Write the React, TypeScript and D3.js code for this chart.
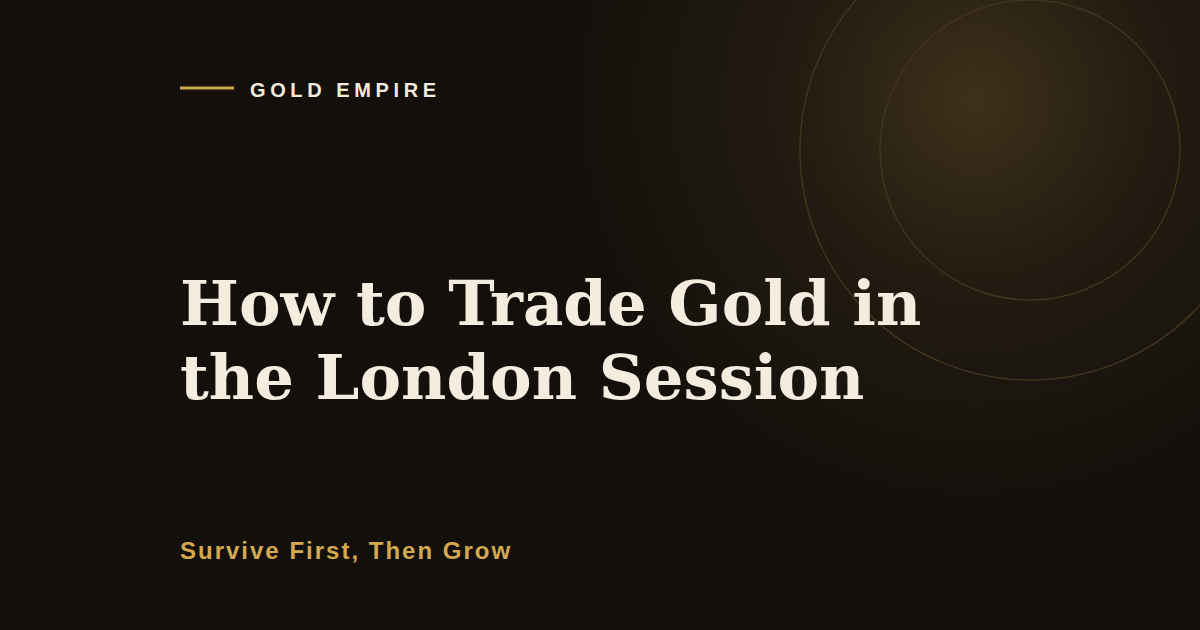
import * as d3 from "d3";

// card content
const brand = "GOLD EMPIRE";
const titleLines = ["How to Trade Gold in", "the London Session"];
const tagline = "Survive First, Then Grow";
// decorative rings (radius in px)
const ringRadii = [150, 230];

const W = 1200;
const H = 630;

const App = () => {
  const lineY = d3.scaleLinear().domain([0, 1]).range([325, 399]);
  return (
    <div style={{ position: "fixed", left: 0, top: 0, width: W, height: H }}>
      <svg width={W} height={H} style={{ display: "block" }}>
        <defs>
          <radialGradient id="glow" gradientUnits="userSpaceOnUse" cx={975} cy={100} r={420}>
            <stop offset="0" stopColor="#3e311a" />
            <stop offset="0.45" stopColor="#221b11" />
            <stop offset="1" stopColor="#13100b" />
          </radialGradient>
        </defs>
        <rect width={W} height={H} fill="#13100b" />
        <rect width={W} height={H} fill="url(#glow)" />
        {ringRadii.map((r) => (
          <circle key={r} cx={1030} cy={150} r={r} fill="none" stroke="#41341f" strokeWidth={1.5} />
        ))}
        <line x1={180} x2={234} y1={88} y2={88} stroke="#d4a84e" strokeWidth={3} />
        <text x={250} y={97} fill="#f2ebdd" fontFamily="Liberation Sans, Arial, sans-serif"
              fontWeight={700} fontSize={20} letterSpacing={4.6}>{brand}</text>
        {titleLines.map((t, i) => (
          <text key={t} x={180} y={lineY(i)} fill="#f3ecdf" fontFamily="DejaVu Serif, serif"
                fontWeight={700} fontSize={62.4}>{t}</text>
        ))}
        <text x={180} y={559} fill="#d4a84e" fontFamily="Liberation Sans, Arial, sans-serif"
              fontWeight={700} fontSize={24} letterSpacing={2}>{tagline}</text>
      </svg>
    </div>
  );
};

export default App;
